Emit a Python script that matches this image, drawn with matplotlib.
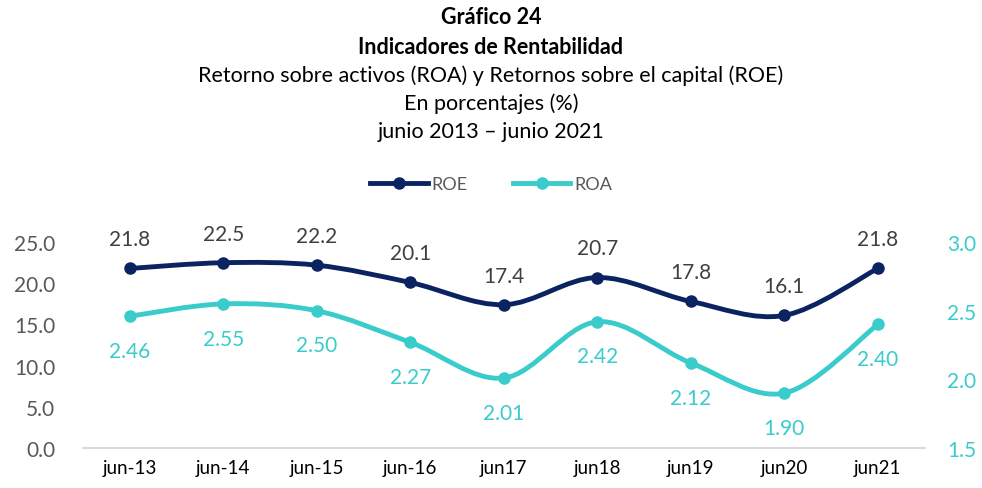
from matplotlib import pyplot as plt
from matplotlib.path import Path
from matplotlib.patches import PathPatch
from matplotlib.lines import Line2D
import numpy as np

plt.rcParams['font.family'] = ['Lato', 'DejaVu Sans']

categorias = ["jun-13", "jun-14", "jun-15", "jun-16", "jun17", "jun18", "jun19", "jun20", "jun21"]
roe = [21.8, 22.5, 22.2, 20.1, 17.4, 20.7, 17.8, 16.1, 21.8]
roa = [2.46, 2.55, 2.50, 2.27, 2.01, 2.42, 2.12, 1.90, 2.40]

c_roe = "#0B2461"
c_roa = "#3ACBCB"
c_gris = "#595959"


def smooth_path(x, y):
    # bezier suavizado tipo Excel (catmull-rom)
    pts = np.column_stack([x, y]).astype(float)
    verts = [pts[0]]
    codes = [Path.MOVETO]
    n = len(pts)
    for i in range(n - 1):
        p0 = pts[i - 1] if i > 0 else pts[i]
        p1 = pts[i]
        p2 = pts[i + 1]
        p3 = pts[i + 2] if i + 2 < n else pts[i + 1]
        c1 = p1 + (p2 - p0) / 6.0
        c2 = p2 - (p3 - p1) / 6.0
        verts += [c1, c2, p2]
        codes += [Path.CURVE4] * 3
    return Path(verts, codes)


fig = plt.figure(figsize=(9.82, 4.89), dpi=100)
ax = fig.add_axes([0.0845, 0.0818, 0.857, 0.421])
ax2 = ax.twinx()

x = np.arange(len(categorias))

ax.add_patch(PathPatch(smooth_path(x, roe), fill=False, edgecolor=c_roe, lw=3.5, capstyle='round', zorder=3))
ax.plot(x, roe, 'o', color=c_roe, ms=8, zorder=4)
ax2.add_patch(PathPatch(smooth_path(x, roa), fill=False, edgecolor=c_roa, lw=3.5, capstyle='round', zorder=3))
ax2.plot(x, roa, 'o', color=c_roa, ms=8, zorder=4)

for xi, v in zip(x, roe):
    ax.annotate(f"{v:.1f}", (xi, v), xytext=(0, 21), textcoords='offset points',
                ha='center', va='center', fontsize=15, color="#404040")
for xi, v in zip(x, roa):
    ax2.annotate(f"{v:.2f}", (xi, v), xytext=(0, -25), textcoords='offset points',
                 ha='center', va='center', fontsize=15, color=c_roa)

ax.set_xlim(-0.5, len(categorias) - 0.5)
ax.set_ylim(0, 25)
ax.set_yticks(np.arange(0, 25.1, 5))
ax.set_yticklabels([f"{t:.1f}" for t in np.arange(0, 25.1, 5)])
ax2.set_ylim(1.5, 3.0)
ax2.set_yticks([1.5, 2.0, 2.5, 3.0])
ax2.set_yticklabels(["1.5", "2.0", "2.5", "3.0"])

ax.set_xticks(x)
ax.set_xticklabels(categorias)

for a in (ax, ax2):
    for s in a.spines.values():
        s.set_visible(False)
ax.spines['bottom'].set_visible(True)
ax.spines['bottom'].set_color("#D9D9D9")
ax.spines['bottom'].set_linewidth(1.5)

ax.tick_params(axis='y', length=0, labelsize=15, labelcolor=c_gris, pad=20)
ax.tick_params(axis='x', length=0, labelsize=13.5, labelcolor="black", pad=8)
ax2.tick_params(axis='y', length=0, labelsize=15, labelcolor=c_roa, pad=16)

# titulos
fig.text(0.5, 1 - 18 / 489, "Gráfico 24", ha='center', va='center', fontsize=15.5, fontweight='bold')
fig.text(0.5, 1 - 47 / 489, "Indicadores de Rentabilidad", ha='center', va='center', fontsize=15.5, fontweight='bold')
fig.text(0.5, 1 - 76 / 489, "Retorno sobre activos (ROA) y Retornos sobre el capital (ROE)", ha='center', va='center', fontsize=15.5)
fig.text(0.5, 1 - 104 / 489, "En porcentajes (%)", ha='center', va='center', fontsize=15.5)
fig.text(0.5, 1 - 132 / 489, "junio 2013 – junio 2021", ha='center', va='center', fontsize=15.5)

handles = [Line2D([], [], color=c_roe, lw=3.5, marker='o', ms=8),
           Line2D([], [], color=c_roa, lw=3.5, marker='o', ms=8)]
fig.legend(handles, ["ROE", "ROA"], loc='center', bbox_to_anchor=(0.5, 1 - 185 / 489),
           ncol=2, frameon=False, fontsize=13, labelcolor=c_gris, handlelength=3.2,
           handletextpad=0.2, columnspacing=2.5)

plt.savefig("out.png", dpi=100)
